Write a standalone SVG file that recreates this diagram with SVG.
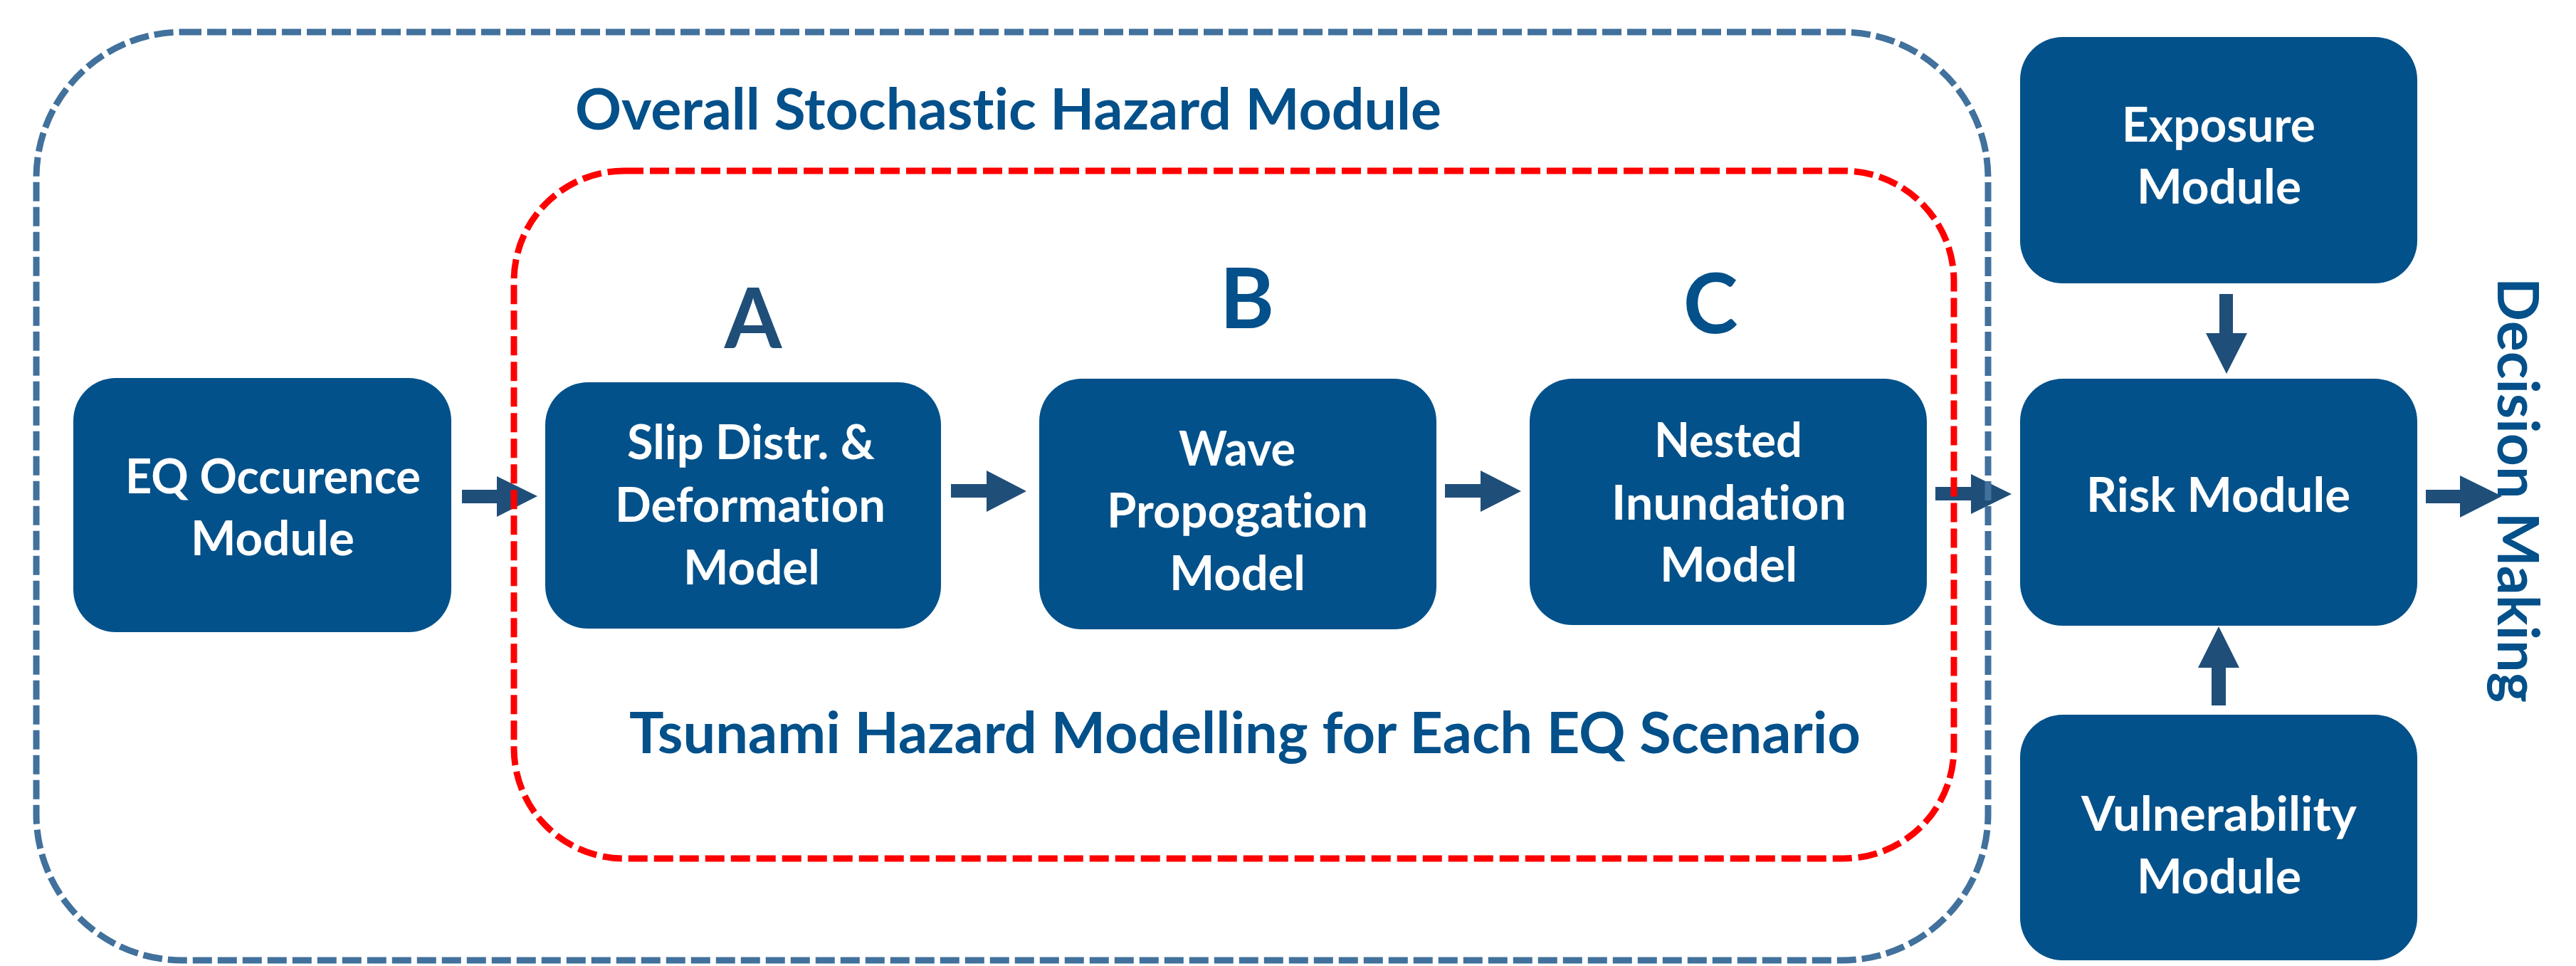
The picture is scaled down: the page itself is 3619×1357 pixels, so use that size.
<svg xmlns="http://www.w3.org/2000/svg" width="3619" height="1357" viewBox="0 0 3619 1357">
<style>
text{font-variant-ligatures:none;}
.box{fill:#03518A;}
.bt{font-family:Lato,"Open Sans","DejaVu Sans",sans-serif;font-weight:bold;font-size:66px;fill:#FFFFFF;}
.tt{font-family:Lato,"Open Sans","DejaVu Sans",sans-serif;font-weight:bold;font-size:80px;fill:#03508A;}
.let{font-family:Lato,"Open Sans","DejaVu Sans",sans-serif;font-weight:bold;font-size:116px;fill:#03508A;text-anchor:middle;}
.arr{fill:#1F4E79;}
.outer{fill:none;stroke:#41719C;stroke-width:9;stroke-dasharray:27 8;}
.inner{fill:none;stroke:#FF0000;stroke-width:9;stroke-dasharray:27 9;}
</style>
<rect width="3619" height="1357" fill="#FFFFFF"/>
<g id="connectors">
<polygon class="arr" points="649,688 698,688 698,669 755,697 698,726 698,707 649,707"/>
<polygon class="arr" points="1336,680 1386,680 1386,661 1442,690 1386,719 1386,699 1336,699"/>
<polygon class="arr" points="2030,680 2080,680 2080,661 2137,690 2080,719 2080,699 2030,699"/>
<polygon class="arr" points="2719,684 2769,684 2769,666 2826,694 2769,722 2769,703 2719,703"/>
<polygon class="arr" points="3408,688 3456,688 3456,668 3515,697 3456,727 3456,707 3408,707"/>
<polygon class="arr" points="3118,413 3137,413 3137,468 3157,468 3128,525 3099,468 3118,468"/>
<polygon class="arr" points="3107,991 3127,991 3127,938 3146,938 3117,880 3088,938 3107,938"/>
</g>
<g id="overall-module">
<rect class="outer" x="51" y="45" width="2742" height="1304" rx="205" ry="205"/>
<text class="tt" x="808" y="182" textLength="1217" lengthAdjust="spacingAndGlyphs">Overall Stochastic Hazard Module</text>
</g>
<g id="tsunami-hazard-modelling">
<rect class="inner" x="722" y="240" width="2023" height="966" rx="155" ry="155"/>
<text class="tt" x="884" y="1058" textLength="1730" lengthAdjust="spacingAndGlyphs">Tsunami Hazard Modelling for Each EQ Scenario</text>
</g>
<g id="label-a"><text class="let" x="1058" y="489" style="fill:#1F4E79">A</text></g>
<g id="label-b"><text class="let" x="1752" y="461">B</text></g>
<g id="label-c"><text class="let" x="2403" y="468">C</text></g>
<g id="eq-occurence">
<rect class="box" x="103" y="531" width="531" height="357" rx="60" ry="60"/>
<text class="bt" x="176" y="693" textLength="415" lengthAdjust="spacingAndGlyphs">EQ Occurence</text>
<text class="bt" x="268" y="780" textLength="230" lengthAdjust="spacingAndGlyphs">Module</text>
</g>
<g id="slip-deformation">
<rect class="box" x="766" y="537" width="556" height="346" rx="60" ry="60"/>
<text class="bt" x="881" y="645" textLength="348" lengthAdjust="spacingAndGlyphs">Slip Distr. &amp;</text>
<text class="bt" x="864" y="733" textLength="380" lengthAdjust="spacingAndGlyphs">Deformation</text>
<text class="bt" x="960" y="821" textLength="192" lengthAdjust="spacingAndGlyphs">Model</text>
</g>
<g id="wave-propogation">
<rect class="box" x="1460" y="532" width="558" height="352" rx="60" ry="60"/>
<text class="bt" x="1656" y="654" textLength="164" lengthAdjust="spacingAndGlyphs">Wave</text>
<text class="bt" x="1555" y="741" textLength="367" lengthAdjust="spacingAndGlyphs">Propogation</text>
<text class="bt" x="1643" y="829" textLength="191" lengthAdjust="spacingAndGlyphs">Model</text>
</g>
<g id="nested-inundation">
<rect class="box" x="2149" y="532" width="558" height="346" rx="60" ry="60"/>
<text class="bt" x="2324" y="642" textLength="208" lengthAdjust="spacingAndGlyphs">Nested</text>
<text class="bt" x="2264" y="730" textLength="330" lengthAdjust="spacingAndGlyphs">Inundation</text>
<text class="bt" x="2332" y="817" textLength="193" lengthAdjust="spacingAndGlyphs">Model</text>
</g>
<g id="exposure">
<rect class="box" x="2838" y="52" width="558" height="346" rx="60" ry="60"/>
<text class="bt" x="2981" y="199" textLength="272" lengthAdjust="spacingAndGlyphs">Exposure</text>
<text class="bt" x="3002" y="286" textLength="231" lengthAdjust="spacingAndGlyphs">Module</text>
</g>
<g id="risk">
<rect class="box" x="2838" y="532" width="558" height="347" rx="60" ry="60"/>
<text class="bt" x="2931" y="719" textLength="371" lengthAdjust="spacingAndGlyphs">Risk Module</text>
</g>
<g id="vulnerability">
<rect class="box" x="2838" y="1004" width="558" height="345" rx="60" ry="60"/>
<text class="bt" x="2924" y="1167" textLength="387" lengthAdjust="spacingAndGlyphs">Vulnerability</text>
<text class="bt" x="3002" y="1255" textLength="231" lengthAdjust="spacingAndGlyphs">Module</text>
</g>
<g id="decision-making">
<text class="tt" transform="translate(3509,390) rotate(90)" x="0" y="0" textLength="597" lengthAdjust="spacingAndGlyphs">Decision Making</text>
</g>
</svg>
